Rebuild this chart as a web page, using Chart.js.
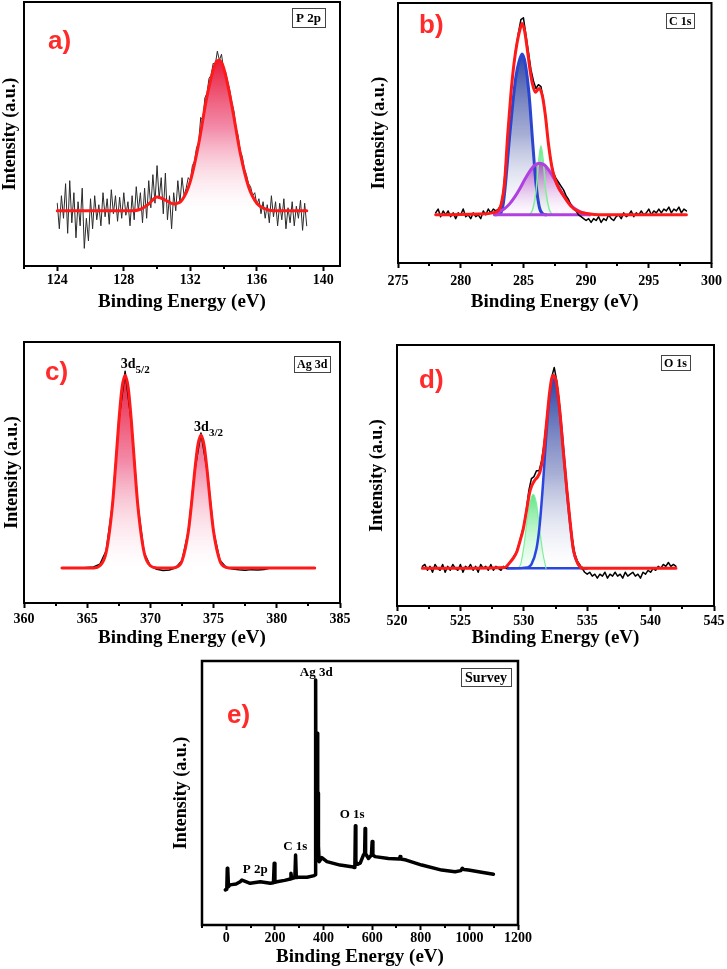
<!DOCTYPE html>
<html><head><meta charset="utf-8">
<script src="https://cdn.jsdelivr.net/npm/chart.js@4/dist/chart.umd.min.js"></script>
<style>
html,body{margin:0;padding:0;background:#fff;}
#wrap{position:relative;width:727px;height:969px;overflow:hidden;background:#fff;}
canvas{position:absolute;}
</style></head><body>
<div id="wrap">
<canvas id="ca" width="360" height="320" style="left:0;top:0"></canvas>
<canvas id="cb" width="367" height="320" style="left:360px;top:0"></canvas>
<canvas id="cc" width="360" height="330" style="left:0;top:320px"></canvas>
<canvas id="cd" width="367" height="334" style="left:360px;top:320px"></canvas>
<canvas id="ce" width="400" height="319" style="left:150px;top:650px"></canvas>
</div>
<script>
// ---------------- DATA ----------------
// a) P 2p
const aRawStart = 124, aRawStep = 0.125;
const aRaw = [
 0.05,-0.12,0.1,-0.05,0.18,-0.15,0.2,-0.08,
 0.12,-0.18,0.06,-0.1,0.15,-0.25,-0.05,-0.2,
 0.08,-0.12,0.1,-0.06,0.04,-0.1,0.12,-0.04,
 0.08,-0.09,0.14,-0.02,0.1,-0.07,0.09,-0.05,
 0.12,-0.03,0.06,-0.1,0.1,-0.06,0.16,0.0,
 0.12,-0.08,0.15,-0.05,0.2,0.02,0.24,0.05,
 0.3,0.08,0.22,-0.02,0.25,-0.06,0.1,-0.12,
 0.12,0.0,0.2,0.05,0.22,0.1,0.15,0.22,
 0.2,0.3,0.33,0.42,0.45,0.62,0.6,0.75,
 0.78,0.88,0.9,0.98,0.97,1.06,1.0,1.04,
 0.94,0.92,0.86,0.8,0.72,0.66,0.55,0.5,
 0.4,0.36,0.28,0.24,0.18,0.16,0.1,0.12,
 0.04,0.08,-0.02,0.06,-0.05,0.04,-0.08,0.1,
 -0.04,0.06,-0.1,0.05,-0.06,0.08,-0.12,0.02,
 -0.08,0.06,-0.1,0.03,-0.05,0.07,-0.13,0.05,
 -0.1];
const aFitE = [124,128.5,129,129.5,130,130.5,131,131.5,132,132.5,133,133.5,133.75,134,134.5,135,135.5,136,136.5,137,139];
const aFitI = [0,0,0.01,0.045,0.092,0.071,0.045,0.07,0.195,0.443,0.758,0.977,1.0,0.95,0.696,0.384,0.16,0.05,0.012,0,0];

// b) C 1s
const bRawStart = 278, bRawStep = 0.2;
const bRaw = [
 0.01,0.03,-0.01,0.02,0.0,0.02,-0.01,0.01,-0.02,0.01,
 0.0,0.03,-0.01,0.0,-0.02,0.01,-0.01,0.0,-0.02,0.02,
 0.0,0.03,0.01,0.03,0.02,0.03,0.05,0.12,0.27,0.46,
 0.63,0.76,0.87,0.95,1.02,1.03,0.94,0.85,0.76,0.7,
 0.66,0.68,0.67,0.6,0.5,0.37,0.28,0.22,0.19,0.17,
 0.15,0.13,0.1,0.08,0.05,0.03,0.02,0.0,-0.01,-0.02,
 -0.03,-0.02,-0.04,-0.02,-0.03,-0.01,-0.04,-0.02,-0.03,0.0,
 -0.02,-0.03,-0.01,0.0,-0.02,0.01,-0.01,0.0,0.02,-0.01,
 0.01,0.0,0.02,0.0,0.01,0.03,0.0,0.02,0.01,0.03,
 0.01,0.03,0.02,0.04,0.01,0.03,0.02,0.04,0.01,0.03,
 0.02];
const bFitE = [278,282,282.5,283,283.25,283.5,283.75,284,284.25,284.5,284.75,284.9,285.1,285.3,285.5,285.7,285.95,286.25,286.5,286.75,287,287.3,287.7,288.2,288.8,289.4,290.2,291,298];
const bFitI = [0,0.005,0.01,0.022,0.06,0.17,0.42,0.63,0.79,0.9,0.975,1.0,0.96,0.87,0.77,0.69,0.64,0.66,0.625,0.52,0.37,0.24,0.155,0.1,0.045,0.017,0.005,0,0];
const bBlueE = [282.8,283.2,283.4,283.6,283.9,284.15,284.4,284.65,284.9,285.15,285.45,285.75,286.0,286.27,286.55,286.8];
const bBlueI = [0,0.01,0.06,0.18,0.41,0.58,0.72,0.8,0.84,0.79,0.63,0.37,0.165,0.04,0.005,0];
const bGreenE = [285.5,285.75,286.0,286.2,286.4,286.6,286.8,287.05,287.3];
const bGreenI = [0,0.03,0.12,0.27,0.36,0.27,0.12,0.03,0];
const bPurpleE = [282.7,283.1,283.5,283.9,284.3,284.7,285.1,285.5,285.9,286.3,286.7,287.1,287.5,287.9,288.3,288.7,289.1,289.5,290.3];
const bPurpleI = [0,0.017,0.032,0.057,0.092,0.135,0.183,0.227,0.259,0.27,0.259,0.227,0.183,0.135,0.092,0.057,0.032,0.017,0];
const bBaseE = [282.7,290.3];
const bBaseI = [0,0];

// c) Ag 3d
const cRawStart = 363, cRawStep = 0.5;
const cRaw = [0,0,0.002,0,0.003,0.006,0.02,0.09,0.33,0.76,1.02,0.75,0.33,0.08,0.01,-0.006,-0.012,-0.01,0.002,0.04,0.19,0.5,0.7,0.5,0.19,0.04,0.003,-0.005,-0.009,-0.011,-0.008,-0.01,-0.007,0,0.001,0,0.002,0,0.001,0,0];
const cFitE = [363,365.5,366,366.5,367,367.25,367.5,367.75,368,368.25,368.5,368.75,369,369.5,370,370.5,371.5,372,372.5,373,373.25,373.5,373.75,374,374.25,374.5,374.75,375,375.5,376,376.5,383];
const cFitI = [0,0.001,0.012,0.082,0.328,0.535,0.757,0.933,1.0,0.933,0.757,0.535,0.328,0.082,0.012,0.001,0,0.004,0.037,0.188,0.332,0.499,0.636,0.69,0.636,0.499,0.332,0.188,0.037,0.004,0,0];

// d) O 1s
const dRawStart = 522, dRawStep = 0.2;
const dRaw = [
 0.01,0.02,-0.01,0.01,-0.02,0.02,0.0,-0.01,0.02,-0.02,
 0.01,-0.01,0.02,0.0,-0.01,0.02,-0.02,0.01,0.0,0.02,
 -0.01,0.01,-0.02,0.02,0.0,0.01,-0.01,0.02,-0.01,0.01,
 0.0,-0.01,0.01,0.0,0.02,0.04,0.06,0.08,0.12,0.17,
 0.22,0.3,0.4,0.46,0.47,0.5,0.5,0.55,0.64,0.76,
 0.88,0.98,1.03,0.96,0.84,0.7,0.55,0.41,0.28,0.16,
 0.08,0.04,0.02,0.0,-0.02,-0.03,-0.02,-0.04,-0.03,-0.05,
 -0.03,-0.04,-0.02,-0.05,-0.03,-0.04,-0.02,-0.04,-0.03,-0.05,
 -0.02,-0.04,-0.03,-0.02,-0.04,-0.03,-0.05,-0.02,-0.03,-0.01,
 -0.02,0.0,-0.01,0.01,0.0,0.02,0.01,0.03,0.01,0.02,
 0.01];
const dFitE = [522,528.5,528.9,529.2,529.45,529.7,529.95,530.2,530.5,530.85,531.1,531.3,531.55,531.8,532.05,532.3,532.55,532.85,533.1,533.4,533.65,533.9,534.3,534.7,542];
const dFitI = [0,0.005,0.03,0.055,0.085,0.14,0.2,0.29,0.4,0.45,0.47,0.5,0.59,0.75,0.91,0.99,0.96,0.8,0.61,0.4,0.24,0.1,0.02,0,0];
const dBlueE = [528.7,530.3,530.6,531.0,531.25,531.5,531.75,532.0,532.35,532.6,532.86,533.13,533.39,533.65,533.92,534.3,534.7,535.0];
const dBlueI = [0,0.005,0.02,0.1,0.22,0.42,0.66,0.86,0.97,0.93,0.79,0.6,0.4,0.23,0.09,0.02,0,0];
const dGreenE = [529.5,529.75,530.0,530.25,530.5,530.75,531.0,531.25,531.5,531.75];
const dGreenI = [0,0.02,0.11,0.24,0.34,0.38,0.33,0.2,0.08,0];
const dBaseE = [528.7,535.0];
const dBaseI = [0,0];

// e) Survey
const survE = [-4,2,4,6,9,15,40,57,64,75,98,140,181,194,197,200,208,240,263,266,269,276,282,285,288,297,332,362,365,367,368,369,371,373,374,375,377,378,379,382,386,393,414,468,516,527,529,531,533,540,551,564,569,571,573,585,597,600,603,612,667,712,715,718,740,804,886,941,965,971,977,996,1050,1099];
const survI = [13.3,13.6,21.5,21,14.5,15.2,15.5,16.4,17,16.6,15.8,16.4,15.8,16,23.4,16.2,16.4,16.9,17.4,19.6,17.6,17.8,18,26.5,18,18.1,18.1,18.7,19,60,92.8,40,25,50,72.6,40,30,50,30,24,24.5,25.5,24,22.7,22.1,21.8,23,37.6,24,23,23.4,26.5,27,36.6,27,25.2,26.5,31.6,26.5,25.9,25.2,25,25.9,25,24.6,22.7,20.8,20.2,20.6,21.5,21,20.8,20,19.2];

// ---------------- HELPERS ----------------
const FAM = '"Liberation Serif", "Times New Roman", serif';
Chart.defaults.font.family = FAM;
Chart.defaults.color = '#000';

const pts = (xs, ys) => xs.map((x, i) => ({x: x, y: ys[i]}));
const gridPts = (x0, dx, ys) => ys.map((y, i) => ({x: +(x0 + i * dx).toFixed(4), y: y}));

function vgrad(topVal, stops) {
  return function (context) {
    const chart = context.chart;
    const {ctx, chartArea, scales} = chart;
    if (!chartArea) return 'rgba(0,0,0,0)';
    const y0 = scales.y.getPixelForValue(topVal), y1 = scales.y.getPixelForValue(0);
    const g = ctx.createLinearGradient(0, y0, 0, y1);
    stops.forEach(s => g.addColorStop(s[0], s[1]));
    return g;
  };
}
const redStops = [[0, 'rgba(232,20,50,0.97)'], [0.45, 'rgba(238,100,140,0.75)'], [1, 'rgba(255,255,255,0.2)']];
const blueStops = [[0, 'rgba(35,60,160,0.95)'], [0.5, 'rgba(130,140,195,0.7)'], [1, 'rgba(255,255,255,0.2)']];
const purpleStops = [[0, 'rgba(170,60,190,0.85)'], [1, 'rgba(255,240,255,0.2)']];
const greenStops = [[0, 'rgba(80,225,120,0.9)'], [1, 'rgba(220,255,230,0.3)']];

const isMult = (v, m) => Math.abs(v / m - Math.round(v / m)) < 1e-6;

function xScale(min, max, step, labelEvery, xH, tickPad, titlePad) {
  return {
    type: 'linear', min: min, max: max,
    afterFit: s => { s.height = xH; },
    grid: { display: true, drawOnChartArea: false, drawTicks: true, tickLength: 5,
            tickColor: c => (c.tick && isMult(c.tick.value, labelEvery)) ? '#000' : 'rgba(0,0,0,0)',
            tickWidth: 2 },
    border: { display: false },
    ticks: { stepSize: step, includeBounds: false, autoSkip: false, maxRotation: 0, minRotation: 0,
             padding: tickPad, color: '#000',
             font: { family: FAM, size: 14, weight: 'bold' },
             callback: v => isMult(v, labelEvery) ? String(v) : '' },
    title: { display: true, text: 'Binding Energy (eV)', color: '#000',
             font: { family: FAM, size: 19, weight: 'bold' }, padding: { top: 0, bottom: titlePad } }
  };
}
function yScale(min, max, yW, titlePad) {
  return {
    type: 'linear', min: min, max: max,
    afterFit: s => { s.width = yW; },
    grid: { display: false }, border: { display: false }, ticks: { display: false },
    title: { display: true, text: 'Intensity (a.u.)', color: '#000',
             font: { family: FAM, size: 18, weight: 'bold' }, padding: { top: titlePad, bottom: 0 } }
  };
}

const panelDecor = {
  id: 'panelDecor',
  afterDraw(chart, args, o) {
    const {ctx, chartArea: ca, scales} = chart;
    ctx.save();
    // minor ticks (shorter), taken from the x scale's own ticks
    ctx.strokeStyle = '#000'; ctx.lineWidth = 2;
    scales.x.ticks.forEach(t => {
      if (isMult(t.value, o.minor) && !isMult(t.value, o.major)) {
        const px = Math.round(scales.x.getPixelForValue(t.value));
        ctx.beginPath(); ctx.moveTo(px, ca.bottom); ctx.lineTo(px, ca.bottom + 3); ctx.stroke();
      }
    });
    // frame
    ctx.lineWidth = o.frame; ctx.strokeStyle = '#000';
    ctx.strokeRect(ca.left, ca.top, ca.right - ca.left, ca.bottom - ca.top);
    // panel letter
    ctx.fillStyle = '#ff2a2a';
    ctx.font = 'bold 26px "Liberation Sans", Arial, sans-serif';
    ctx.textAlign = 'left'; ctx.textBaseline = 'middle';
    ctx.fillText(o.letter, ca.left + o.letterPos[0], ca.top + o.letterPos[1]);
    // corner box
    const b = o.box;
    ctx.font = 'bold ' + b.size + 'px ' + FAM;
    const w = ctx.measureText(b.text).width + 2 * b.padX;
    const bx = Math.round(ca.right - b.dx - w), by = Math.round(ca.top + b.dy);
    ctx.fillStyle = '#fff'; ctx.fillRect(bx, by, w, b.h);
    ctx.lineWidth = 1; ctx.strokeStyle = '#444';
    ctx.strokeRect(bx + 0.5, by + 0.5, Math.round(w), b.h);
    ctx.fillStyle = '#000'; ctx.textAlign = 'center'; ctx.textBaseline = 'middle';
    ctx.fillText(b.text, bx + w / 2, by + b.h / 2 + 1);
    // peak labels in data coordinates
    (o.labels || []).forEach(l => {
      const x = scales.x.getPixelForValue(l.e), y = scales.y.getPixelForValue(l.v);
      ctx.fillStyle = '#000';
      ctx.font = 'bold ' + l.size + 'px ' + FAM;
      if (l.sub) {
        const w1 = ctx.measureText(l.text).width;
        ctx.font = 'bold ' + l.subSize + 'px ' + FAM;
        const w2 = ctx.measureText(l.sub).width;
        const x0 = x - (w1 + w2) / 2;
        ctx.textAlign = 'left'; ctx.textBaseline = 'alphabetic';
        ctx.font = 'bold ' + l.size + 'px ' + FAM;
        ctx.fillText(l.text, x0, y);
        ctx.font = 'bold ' + l.subSize + 'px ' + FAM;
        ctx.fillText(l.sub, x0 + w1, y + l.subDy);
      } else {
        ctx.textAlign = 'center'; ctx.textBaseline = 'middle';
        ctx.fillText(l.text, x, y);
      }
    });
    ctx.restore();
  }
};

function lineDs(data, color, width, extra) {
  return Object.assign({ data: data, borderColor: color, borderWidth: width, pointRadius: 0,
                         fill: false, tension: 0, borderJoinStyle: 'round', borderCapStyle: 'round' }, extra || {});
}
function fitDs(data, color, width, fillStops, topVal) {
  return lineDs(data, color, width, { cubicInterpolationMode: 'monotone',
    fill: fillStops ? 'origin' : false,
    backgroundColor: fillStops ? vgrad(topVal, fillStops) : 'rgba(0,0,0,0)' });
}

// datasets are listed top-to-bottom (lower order is drawn on top)
function makeChart(id, datasets, xs, ys, padTop, padRight, decor) {
  datasets.forEach((d, i) => { d.order = i; });
  return new Chart(document.getElementById(id), {
    type: 'line',
    data: { datasets: datasets },
    options: {
      responsive: false, animation: false, devicePixelRatio: 1,
      layout: { padding: { top: padTop, right: padRight, left: 0, bottom: 0 } },
      scales: { x: xs, y: ys },
      plugins: { legend: { display: false }, tooltip: { enabled: false },
                 filler: { drawTime: 'beforeDatasetsDraw' }, panelDecor: decor }
    },
    plugins: [panelDecor]
  });
}

// ---------------- CHARTS ----------------
makeChart('ca', [
  fitDs(pts(aFitE, aFitI), '#ff1a1a', 3, redStops, 1.0),
  lineDs(gridPts(aRawStart, aRawStep, aRaw), '#2a2a2a', 1)
], xScale(122, 141, 2, 4, 54, 1, 7), yScale(-0.367, 1.387, 24, 0), 2, 20,
{ frame: 2, minor: 2, major: 4, letter: 'a)', letterPos: [24, 40],
  box: { text: 'P 2p', size: 13, padX: 4, h: 19, dx: 15, dy: 6 } });

makeChart('cb', [
  fitDs(pts(bFitE, bFitI), '#ff1a1a', 3, null, 1),
  lineDs(gridPts(bRawStart, bRawStep, bRaw), '#000', 1.5),
  fitDs(pts(bPurpleE, bPurpleI), '#b040e0', 3, purpleStops, 0.27),
  lineDs(pts(bBaseE, bBaseI), '#b040e0', 3),
  fitDs(pts(bGreenE, bGreenI), '#7ff09a', 1.5, greenStops, 0.36),
  fitDs(pts(bBlueE, bBlueI), '#2a45d0', 3, blueStops, 0.84)
], xScale(275, 300, 2.5, 5, 57, 5, 7), yScale(-0.252, 1.107, 38, 9), 3, 13,
{ frame: 2, minor: 2.5, major: 5, letter: 'b)', letterPos: [21, 23],
  box: { text: 'C 1s', size: 12, padX: 3, h: 15, dx: 17, dy: 10 } });

makeChart('cc', [
  fitDs(pts(cFitE, cFitI), '#ff1a1a', 3, redStops, 1.0),
  lineDs(gridPts(cRawStart, cRawStep, cRaw), '#000', 1.5)
], xScale(360, 385, 2.5, 5, 47, 2.5, 1), yScale(-0.181, 1.172, 24, 1.5), 22, 20,
{ frame: 2, minor: 2.5, major: 5, letter: 'c)', letterPos: [21, 31],
  box: { text: 'Ag 3d', size: 12, padX: 3, h: 16, dx: 10, dy: 14 },
  labels: [
    { e: 368.8, v: 1.036, text: '3d', sub: '5/2', size: 14, subSize: 11, subDy: 5 },
    { e: 374.6, v: 0.71, text: '3d', sub: '3/2', size: 14, subSize: 11, subDy: 5 }
  ] });

makeChart('cd', [
  fitDs(pts(dFitE, dFitI), '#ff1a1a', 3, null, 1),
  lineDs(gridPts(dRawStart, dRawStep, dRaw), '#000', 1.5),
  fitDs(pts(dBlueE, dBlueI), '#2a45e0', 2.5, blueStops, 0.97),
  fitDs(pts(dGreenE, dGreenI), '#80ee9a', 1.2, greenStops, 0.38),
  lineDs(pts(dBaseE, dBaseI), '#2a45e0', 2.5)
], xScale(520, 545, 2.5, 5, 48, 1.5, 4.5), yScale(-0.193, 1.145, 37, 6.5), 25, 13,
{ frame: 2, minor: 2.5, major: 5, letter: 'd)', letterPos: [22, 36],
  box: { text: 'O 1s', size: 12, padX: 3, h: 15, dx: 24, dy: 10 } });

makeChart('ce', [
  lineDs(pts(survE, survI), '#000', 3.5)
], xScale(-100, 1200, 100, 200, 44, 0, 0.6), yScale(0, 100, 52, 21), 11, 32,
{ frame: 2.5, minor: 100, major: 200, letter: 'e)', letterPos: [25, 55],
  box: { text: 'Survey', size: 14, padX: 4, h: 18, dx: 7, dy: 7 },
  labels: [
    { e: 370, v: 95.5, text: 'Ag 3d', size: 13 },
    { e: 283.6, v: 29.5, text: 'C 1s', size: 13 },
    { e: 119, v: 20.8, text: 'P 2p', size: 13 },
    { e: 518, v: 41.7, text: 'O 1s', size: 13 }
  ] });
</script>
</body></html>
